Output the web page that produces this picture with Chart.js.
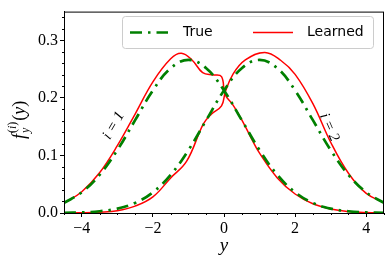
<!DOCTYPE html>
<html>
<head>
<meta charset="utf-8">
<script src="https://cdn.jsdelivr.net/npm/chart.js@4.4.1/dist/chart.umd.min.js"></script>
<style>
  html, body { margin: 0; padding: 0; background: #fff; }
  #wrap { width: 390px; height: 265px; }
</style>
</head>
<body>
<div id="wrap"><canvas id="chart"></canvas></div>
<script>
// values
const trueX = [-4.5, -4, -3.5, -3, -2.5, -2, -1.5, -1, -0.5, 0, 0.5, 1, 1.5, 2, 2.5, 3, 3.5, 4, 4.5];
const true1 = [0.0175, 0.036, 0.0663, 0.1093, 0.1613, 0.213, 0.2516, 0.266, 0.2516, 0.213, 0.1613, 0.1093, 0.0663, 0.036, 0.0175, 0.0076, 0.003, 0.001, 0.0003];
const true2 = [0.0003, 0.001, 0.003, 0.0076, 0.0175, 0.036, 0.0663, 0.1093, 0.1613, 0.213, 0.2516, 0.266, 0.2516, 0.213, 0.1613, 0.1093, 0.0663, 0.036, 0.0175];

const learned1X = [-4.5, -4, -3.5, -3, -2.5, -2, -1.5, -1.2, -0.9, -0.6, -0.3, -0.07, 0.03, 0.25, 0.5, 0.75, 1, 1.5, 2, 2.5, 3, 3.5, 4, 4.5];
const learned1 = [0.017, 0.037, 0.07, 0.117, 0.172, 0.228, 0.268, 0.2775, 0.266, 0.244, 0.240, 0.237, 0.206, 0.188, 0.162, 0.132, 0.104, 0.061, 0.033, 0.016, 0.007, 0.0025, 0.0007, 0.0002];

const learned2X = [-4.5, -4, -3.5, -3, -2.5, -2, -1.5, -1.05, -0.58, -0.35, -0.07, 0.04, 0.25, 0.6, 1.15, 1.6, 2, 2.5, 3, 3.5, 4, 4.5];
const learned2 = [0.0002, 0.0005, 0.0015, 0.004, 0.012, 0.028, 0.061, 0.09, 0.155, 0.172, 0.186, 0.211, 0.241, 0.266, 0.279, 0.265, 0.241, 0.19, 0.123, 0.069, 0.034, 0.018];

const xTicks = [-4, -2, 0, 2, 4];
const yTicks = [0.0, 0.1, 0.2, 0.3];
const curveLabels = [
  { text: 'i = 1', x: -3.1, y: 0.152, angle: -60 },
  { text: 'i = 2', x: 2.96, y: 0.149, angle: 66 }
];

const GREEN = '#008000';
const RED = '#ff0000';
const SERIF = '"Liberation Serif", "DejaVu Serif", serif';

const pts = (xs, ys) => xs.map((x, i) => ({ x, y: ys[i] }));

const trueStyle = { borderColor: GREEN, borderWidth: 2.7, borderDash: [12, 6, 2.5, 6], borderCapStyle: 'butt' };
const learnedStyle = { borderColor: RED, borderWidth: 1.5, borderDash: [] };

const datasets = [
  { label: 'True', data: pts(trueX, true1), ...trueStyle, legend: true },
  { label: 'True 2', data: pts(trueX, true2), ...trueStyle },
  { label: 'Learned', data: pts(learned1X, learned1), ...learnedStyle, legend: true },
  { label: 'Learned 2', data: pts(learned2X, learned2), ...learnedStyle }
].map(d => ({ ...d, pointRadius: 0, fill: false, tension: 0.4 }));

// frame, minor ticks, curve labels, axis titles, legend box
const decorPlugin = {
  id: 'decor',
  afterDatasetsDraw(chart) {
    const { ctx, scales: { x, y } } = chart;
    ctx.save();
    ctx.fillStyle = '#000';
    ctx.font = 'italic 15px ' + SERIF;
    ctx.textAlign = 'center';
    ctx.textBaseline = 'middle';
    curveLabels.forEach(l => {
      ctx.save();
      ctx.translate(x.getPixelForValue(l.x), y.getPixelForValue(l.y));
      ctx.rotate(l.angle * Math.PI / 180);
      ctx.fillText(l.text, 0, 0);
      ctx.restore();
    });
    ctx.restore();
  },
  afterDraw(chart) {
    const { ctx, chartArea: a, scales: { x, y } } = chart;
    ctx.save();
    // frame
    ctx.strokeStyle = '#000';
    ctx.lineWidth = 1;
    ctx.strokeRect(a.left + 0.5, a.top + 0.5, a.right - a.left - 1, a.bottom - a.top);

    // minor ticks
    ctx.beginPath();
    for (let v = -4.5; v <= 4.5001; v += 0.5) {
      if (Math.abs(v % 2) < 1e-6) continue;
      const px = Math.round(x.getPixelForValue(v)) + 0.5;
      ctx.moveTo(px, a.bottom); ctx.lineTo(px, a.bottom + 2);
    }
    for (let v = 0; v <= 0.35; v += 0.02) {
      if (Math.abs((v * 10) - Math.round(v * 10)) < 1e-6) continue;
      const py = Math.round(y.getPixelForValue(v)) + 0.5;
      ctx.moveTo(a.left, py); ctx.lineTo(a.left - 2, py);
    }
    ctx.stroke();

    // x title
    ctx.fillStyle = '#000';
    ctx.textAlign = 'center';
    ctx.textBaseline = 'middle';
    ctx.font = 'italic 19px ' + SERIF;
    ctx.fillText('y', (a.left + a.right) / 2, 246);

    // y title f_y^(i)(y)
    ctx.save();
    ctx.translate(19, 112);
    ctx.rotate(-Math.PI / 2);
    ctx.textAlign = 'left';
    ctx.textBaseline = 'alphabetic';
    const big = 'italic 18px ' + SERIF, small = 'italic 12px ' + SERIF;
    const smallUp = '12px ' + SERIF, bigUp = '18px ' + SERIF;
    let cx = -27;
    ctx.font = big; ctx.fillText('f', cx, 6);
    const fw = ctx.measureText('f').width + 1;
    ctx.font = small; ctx.fillText('y', cx + fw, 10);
    ctx.font = smallUp; ctx.fillText('(', cx + fw, -3);
    const w1 = ctx.measureText('(').width;
    ctx.font = small; ctx.fillText('i', cx + fw + w1, -3);
    const w2 = ctx.measureText('i').width;
    ctx.font = smallUp; ctx.fillText(')', cx + fw + w1 + w2, -3);
    const w3 = ctx.measureText(')').width;
    cx = cx + fw + w1 + w2 + w3 + 1;
    ctx.font = bigUp; ctx.fillText('(', cx, 6); cx += ctx.measureText('(').width;
    ctx.font = big; ctx.fillText('y', cx, 6); cx += ctx.measureText('y').width;
    ctx.font = bigUp; ctx.fillText(')', cx, 6);
    ctx.restore();

    // legend
    const box = { l: 122, t: 16, r: 373, b: 48 };
    ctx.beginPath();
    ctx.roundRect(box.l + 0.5, box.t + 0.5, box.r - box.l, box.b - box.t, 3);
    ctx.fillStyle = 'rgba(255,255,255,0.8)';
    ctx.fill();
    ctx.strokeStyle = '#cccccc';
    ctx.lineWidth = 1;
    ctx.stroke();
    const cy = (box.t + box.b) / 2 + 0.5;
    const slots = [{ x0: 130, x1: 168, tx: 183 }, { x0: 253, x1: 293, tx: 307 }];
    chart.data.datasets.filter(d => d.legend).forEach((d, i) => {
      const s = slots[i];
      ctx.beginPath();
      ctx.strokeStyle = d.borderColor;
      ctx.lineWidth = d.borderWidth;
      ctx.setLineDash(d.borderDash || []);
      ctx.lineCap = 'butt';
      ctx.moveTo(s.x0, cy); ctx.lineTo(s.x1, cy);
      ctx.stroke();
      ctx.setLineDash([]);
      ctx.fillStyle = '#000';
      ctx.font = '14px "DejaVu Sans", sans-serif';
      ctx.textAlign = 'left';
      ctx.textBaseline = 'middle';
      ctx.fillText(d.label, s.tx, cy);
    });
    ctx.restore();
  }
};

const tickFont = { family: SERIF, size: 16 };

new Chart(document.getElementById('chart').getContext('2d'), {
  type: 'line',
  data: { datasets },
  options: {
    responsive: true, maintainAspectRatio: false,
    animation: false,
    devicePixelRatio: 1,
    layout: { padding: { top: 6, right: 6, left: 0, bottom: 0 } },
    plugins: { legend: { display: false }, tooltip: { enabled: false } },
    scales: {
      x: {
        type: 'linear', min: -4.5, max: 4.5,
        afterFit: s => { s.height = 52; },
        afterBuildTicks: s => { s.ticks = xTicks.map(v => ({ value: v })); },
        ticks: { font: tickFont, color: '#000', padding: 2, maxRotation: 0,
          callback: v => String(v).replace('-', '\u2212') },
        grid: { drawOnChartArea: false, tickLength: 4, color: '#000' },
        border: { color: '#000' }
      },
      y: {
        min: 0, max: 0.35,
        afterFit: s => { s.width = 64; },
        afterBuildTicks: s => { s.ticks = yTicks.map(v => ({ value: v })); },
        ticks: { font: tickFont, color: '#000', padding: 2,
          callback: v => Number(v).toFixed(1) },
        grid: { drawOnChartArea: false, tickLength: 4, color: '#000' },
        border: { color: '#000' }
      }
    }
  },
  plugins: [decorPlugin]
});
</script>
</body>
</html>
